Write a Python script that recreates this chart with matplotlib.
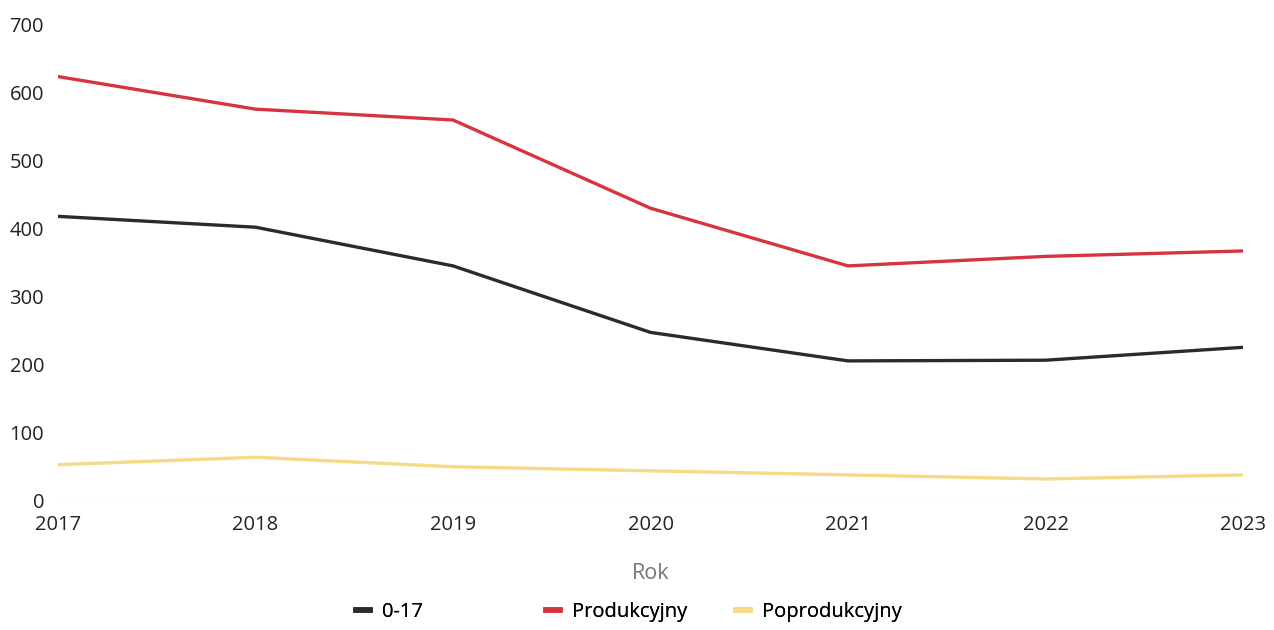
import matplotlib
matplotlib.use("Agg")
import matplotlib.pyplot as plt
from matplotlib.lines import Line2D

plt.rcParams['font.family'] = ['Open Sans', 'DejaVu Sans']

years = [2017, 2018, 2019, 2020, 2021, 2022, 2023]
series_names = ["0-17", "Produkcyjny", "Poprodukcyjny"]
val_0_17 = [418, 402, 345, 247, 205, 206, 225]
val_prod = [624, 576, 560, 430, 345, 359, 367]
val_poprod = [52, 63, 49, 43, 37, 31, 37]
colors = ["#2b2b2b", "#d6353f", "#f7da85"]
yticks = [0, 100, 200, 300, 400, 500, 600, 700]

fig = plt.figure(figsize=(12.74, 6.30), dpi=100)
ax = fig.add_axes([58/1274, 1 - 500/630, (1243-58)/1274, 475/630])

for vals, c, name in zip([val_0_17, val_prod, val_poprod], colors, series_names):
    ax.plot(years, vals, color=c, lw=2.4, solid_capstyle='round', label=name)

ax.axhline(0, color='#bbbbbb', lw=0.8, ls=(0, (1, 1)), zorder=0)
ax.set_xlim(2017, 2023)
ax.set_ylim(0, 700)
ax.set_yticks(yticks)
ax.set_xticks(years)
ax.tick_params(length=0, labelsize=14.5, colors='#222222')
ax.tick_params(axis='y', pad=10)
ax.tick_params(axis='x', pad=11)
for s in ax.spines.values():
    s.set_visible(False)
ax.set_xlabel("Rok", fontsize=15.5, color='#777777', labelpad=20)

# legend entries (one per series, placed along the bottom)
leg_x = [356, 546, 736]
for c, name, x in zip(colors, series_names, leg_x):
    lg = fig.legend([Line2D([0], [0], color=c, lw=4)], [name],
                    loc='center left', bbox_to_anchor=(x/1274, 1 - 612/630),
                    frameon=False, fontsize=14.5, handlelength=0.7,
                    handletextpad=0.6, borderpad=0, borderaxespad=0)
    fig.add_artist(lg)

fig.savefig("out.png", dpi=100)
